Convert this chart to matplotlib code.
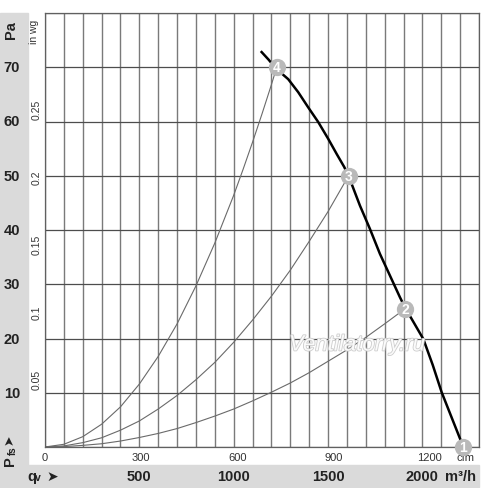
import matplotlib
matplotlib.use("Agg")
import matplotlib.pyplot as plt
import matplotlib.patheffects as pe
from matplotlib.patches import Rectangle

plt.rcParams['font.family'] = ['Liberation Sans', 'DejaVu Sans']

# fan curve, air flow in m3/h, static pressure in Pa
fan_q = [1148, 1185, 1223, 1289, 1342, 1395, 1448, 1501, 1546, 1586, 1607,
         1625, 1669, 1722, 1775, 1828, 1881, 1908, 1955, 2005, 2055, 2102, 2160, 2217]
fan_p = [72.8, 71.4, 69.8, 67.8, 65.4, 62.6, 59.9, 56.8, 54.0, 51.6, 50.0,
         48.5, 44.5, 40.2, 35.6, 31.6, 27.6, 25.7, 22.9, 19.9, 15.1, 10.1, 5.0, 0.0]

# system curves through the operating points
sys4_q = [0, 100, 200, 300, 400, 500, 600, 700, 800, 900, 1000, 1050, 1100, 1150, 1200, 1228]
sys4_p = [0, 0.5, 1.9, 4.2, 7.4, 11.6, 16.7, 22.7, 29.7, 37.6, 46.4, 51.2, 56.2, 61.4, 66.8, 70.0]
sys3_q = [0, 100, 200, 300, 400, 500, 600, 700, 800, 900, 1000, 1100, 1200, 1300, 1400, 1500, 1609]
sys3_p = [0, 0.2, 0.8, 1.7, 3.1, 4.8, 7.0, 9.5, 12.4, 15.6, 19.3, 23.4, 27.8, 32.6, 37.9, 43.4, 50.0]
sys2_q = [0, 100, 200, 300, 400, 500, 600, 700, 800, 900, 1000, 1100, 1200, 1300, 1400, 1500,
          1600, 1700, 1800, 1909]
sys2_p = [0, 0.07, 0.3, 0.6, 1.1, 1.75, 2.5, 3.4, 4.5, 5.7, 7.0, 8.5, 10.1, 11.8, 13.7, 15.8,
          17.9, 20.2, 22.7, 25.5]

# operating points
pt_q = [2217, 1909, 1609, 1228]
pt_p = [0, 25.5, 50, 70]
pt_lab = ["1", "2", "3", "4"]

pa_ticks = [10, 20, 30, 40, 50, 60, 70]
inwg_ticks = [0.05, 0.1, 0.15, 0.2, 0.25]
cfm_ticks = [0, 300, 600, 900, 1200]
m3h_ticks = [500, 1000, 1500, 2000]

W, H = 500, 489


def fx(x):
    return x / W


def fy(y):
    return 1 - y / H


fig = plt.figure(figsize=(5, 4.89), dpi=100)
fig.patch.set_facecolor("white")

# grey label strips
gray = "#dadada"
fig.patches.append(Rectangle((0, fy(488)), fx(28), fy(14) - fy(488),
                             transform=fig.transFigure, color=gray, zorder=0))
fig.patches.append(Rectangle((0, fy(488)), fx(479), fy(466) - fy(488),
                             transform=fig.transFigure, color=gray, zorder=0))

ax = fig.add_axes([fx(45), fy(448), fx(479) - fx(45), fy(14) - fy(448)])
ax.set_xlim(0, 2300)
ax.set_ylim(0, 80)
ax.set_xticks(range(0, 2301, 100))
ax.set_yticks(range(0, 81, 10))
ax.set_xticklabels([])
ax.set_yticklabels([])
ax.tick_params(length=0)
ax.grid(axis="x", color="#7a7a7a", lw=1.0)
ax.grid(axis="y", color="#4d4d4d", lw=0.9)
for s in ax.spines.values():
    s.set_color("#606060")
    s.set_linewidth(0.9)

ax.plot(sys4_q, sys4_p, color="#6a6a6a", lw=0.8)
ax.plot(sys3_q, sys3_p, color="#6a6a6a", lw=0.8)
ax.plot(sys2_q, sys2_p, color="#6a6a6a", lw=0.8)
ax.plot(fan_q, fan_p, color="black", lw=1.8)

# cfm labels under the axis (1 cfm = 1.699 m3/h)
for c in cfm_ticks:
    ax.text(c * 1.699, -0.9, str(c), fontsize=8, color="#333333",
            ha="center", va="top", clip_on=False)
ax.text(2231, -0.9, "cfm", fontsize=8, color="#333333", ha="center", va="top",
        clip_on=False, zorder=4)

ax.scatter(pt_q, pt_p, s=155, color="#b9b9b9", zorder=5, clip_on=False, linewidths=0)
for q, p, t in zip(pt_q, pt_p, pt_lab):
    ax.text(q, p, t, color="white", fontsize=10, fontweight="bold",
            ha="center", va="center", zorder=6, clip_on=False)

# in wg labels (1 in wg = 249.1 Pa)
for w in inwg_ticks:
    ax.text(-45, w * 249.1, "%g" % w, fontsize=7.5, color="#333333", rotation=90,
            ha="center", va="center", clip_on=False)
fig.text(fx(34), fy(32), "in wg", fontsize=7.5, color="#333333", rotation=90,
         ha="center", va="center")

# Pa labels in the left strip
for p in pa_ticks:
    fig.text(fx(12), fy(448 - p * 5.425), str(p),
             fontsize=10.5, fontweight="bold", color="#222222", ha="center", va="center")
fig.text(fx(11), fy(30), "Pa", fontsize=10.5, fontweight="bold", color="#222222",
         rotation=90, ha="center", va="center")
fig.text(fx(10), fy(461), "P", fontsize=10.5, fontweight="bold", color="#222222",
         rotation=90, ha="center", va="center")
fig.text(fx(13), fy(451), "fs", fontsize=7, fontweight="bold", color="#222222",
         rotation=90, ha="center", va="center")
fig.text(fx(10), fy(440), "\u27a4", fontsize=9, color="#222222",
         rotation=90, ha="center", va="center")

# m3/h labels in the bottom strip
for m in m3h_ticks:
    fig.text(fx(45 + m * 434 / 2300), fy(477), str(m), fontsize=10.5, fontweight="bold",
             color="#222222", ha="center", va="center")
fig.text(fx(461), fy(477), "m\u00b3/h", fontsize=10.5, fontweight="bold",
         color="#222222", ha="center", va="center")
fig.text(fx(27), fy(477), "q", fontsize=10.5, fontweight="bold", color="#222222",
         ha="left", va="center")
fig.text(fx(34.5), fy(478), "v", fontsize=7.5, fontweight="bold", color="#222222",
         ha="left", va="center")
fig.text(fx(46), fy(477), "\u27a4", fontsize=10, color="#222222", ha="left", va="center")

# watermark
fig.text(fx(357), fy(346), "Ventilatorry.ru", fontsize=16, style="italic",
         color="white", ha="center", va="center", alpha=0.9,
         path_effects=[pe.withStroke(linewidth=1.2, foreground="#c8c8c8")])

fig.savefig("out.png", dpi=100)
